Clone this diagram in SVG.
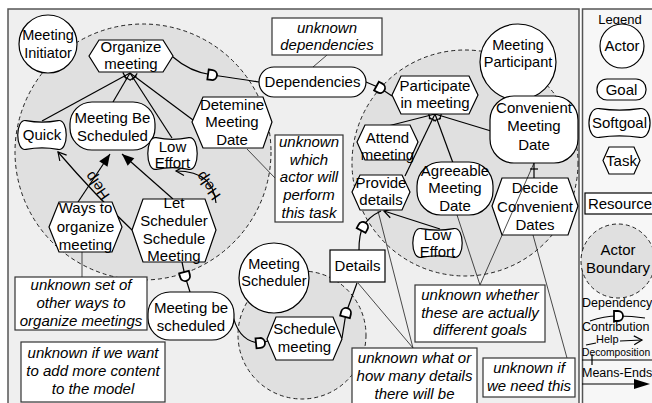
<svg xmlns="http://www.w3.org/2000/svg" width="652" height="403" viewBox="0 0 652 403">
<style>
text{font-family:"Liberation Sans",Arial,sans-serif;font-size:15px;fill:#000;text-anchor:middle}
.act text{font-size:14.5px}
.nt text{font-style:italic}
.sh{fill:#fff;stroke:#000;stroke-width:1.2}
.nr{fill:#fff;stroke:#333;stroke-width:1.2}
.bnd{fill:#e0e0e0;stroke:#222;stroke-width:1;stroke-dasharray:4 3}
.ln{fill:none;stroke:#000;stroke-width:1.2}
.an{fill:none;stroke:#000;stroke-width:0.7}
.dep{marker-mid:url(#dmark)}
.dec{marker-start:url(#tick)}
.me{marker-end:url(#mend)}
.con{marker-end:url(#open)}
.lg text{text-anchor:start}
</style>
<defs>
<marker id="dmark" viewBox="-7 -7 14 14" markerWidth="14" markerHeight="14" refX="0" refY="0" orient="auto" markerUnits="userSpaceOnUse">
<path d="M-4,-5 L0,-5 A5,5 0 0 1 0,5 L-4,5 Z" fill="#fff" stroke="#000" stroke-width="1.8"/>
</marker>
<marker id="tick" viewBox="-2 -6 12 12" markerWidth="12" markerHeight="12" refX="0" refY="0" orient="auto" markerUnits="userSpaceOnUse">
<path d="M6,-4 L6,4" stroke="#000" stroke-width="1.2"/>
</marker>
<marker id="mend" viewBox="-13 -7 15 14" markerWidth="15" markerHeight="14" refX="0" refY="0" orient="auto" markerUnits="userSpaceOnUse">
<path d="M0,0 L-12,-5 L-12,5 Z" fill="#000"/>
</marker>
<marker id="open" viewBox="-11 -7 13 14" markerWidth="13" markerHeight="14" refX="0" refY="0" orient="auto" markerUnits="userSpaceOnUse">
<path d="M-8,-4.5 L0,0 L-8,4.5" fill="none" stroke="#000" stroke-width="1.2"/>
</marker>
</defs>

<rect x="0" y="0" width="652" height="403" fill="#fff"/>
<!-- panels -->
<rect x="8" y="9" width="571" height="410" fill="#efefef" stroke="#555" stroke-width="1.5"/>
<rect x="582.5" y="9" width="80" height="410" fill="#f7f7f7" stroke="#555" stroke-width="1.5"/>

<!-- actor boundaries -->
<g id="boundaries">
<circle class="bnd" cx="143" cy="152" r="128"/>
<circle class="bnd" cx="465" cy="163" r="113"/>
<circle class="bnd" cx="302" cy="335" r="64"/>
</g>

<!-- links -->
<g id="connectors">
<!-- dependencies -->
<path class="ln dep" d="M173,57 Q190,72 212,75 Q240,79 259,82"/>
<path class="ln dep" d="M366,82 L380,88 L392,96"/>
<path class="ln dep" d="M182,262 L185,276 L190,292"/>
<path class="ln dep" d="M232,312 Q238,342 260,343 L268,341"/>
<path class="ln dep" d="M342,338 L346,313 L357,283"/>
<path class="ln dep" d="M359,250 Q359,234 363,227 Q368,217 381,211"/>
<!-- decompositions -->
<path class="ln dec" d="M130,73 L42,121"/>
<path class="ln dec" d="M130,73 L113,102"/>
<path class="ln dec" d="M130,73 L172,138"/>
<path class="ln dec" d="M130,73 L193,120"/>
<path class="ln dec" d="M435,114 L388,126"/>
<path class="ln dec" d="M435,114 L405,176"/>
<path class="ln dec" d="M435,114 L453,163"/>
<path class="ln dec" d="M435,114 L491,131"/>
<path class="ln dec" d="M534,163 L534,178"/>
<!-- means-ends -->
<path class="ln me" d="M78,202 L110,154"/>
<path class="ln me" d="M173,199 L122,154"/>
<!-- contributions -->
<path class="ln con" d="M132,230 Q95,195 58,152"/>
<text transform="translate(97,186) rotate(235)" dy="0.35em">Help</text>
<path class="ln con" d="M216,203 C214,184 204,171 176,171"/>
<text transform="translate(208,186) rotate(235)" dy="0.35em">Help</text>
<path class="ln con" d="M440,229 L384,211"/>
</g>

<!-- Meeting Initiator -->
<g id="meeting-initiator" class="act">
<circle class="sh" cx="48" cy="44" r="29"/>
<text x="48" y="40">Meeting</text>
<text x="48" y="58">Initiator</text>
</g>
<g id="organize-meeting">
<polygon class="sh" points="89,56 99,40 163,40 173,56 163,72 99,72"/>
<text x="131" y="52">Organize</text>
<text x="131" y="69">meeting</text>
</g>
<g id="meeting-be-scheduled-goal">
<rect class="sh" x="70" y="102" width="85" height="48" rx="22"/>
<text x="112.5" y="123">Meeting Be</text>
<text x="112.5" y="141">Scheduled</text>
</g>
<g id="quick">
<path class="sh" d="M26,120.6 Q42,123.6 58,120.6 C69,118.5 69,151.5 58,149.4 Q42,146.4 26,149.4 C15,151.5 15,118.5 26,120.6 Z"/>
<text x="42" y="140">Quick</text>
</g>
<g id="low-effort-initiator">
<path class="sh" d="M156.2,137.7 Q172.5,141 188.8,137.7 C200,135.4 200,171.7 188.8,169.3 Q172.5,166 156.2,169.3 C145,171.7 145,135.4 156.2,137.7 Z"/>
<text x="172.5" y="152">Low</text>
<text x="172.5" y="168">Effort</text>
</g>
<g id="determine-meeting-date">
<polygon class="sh" points="192,122 203,97 263,97 272,122 263,148 203,148"/>
<text x="232" y="110">Detemine</text>
<text x="232" y="127">Meeting</text>
<text x="232" y="145">Date</text>
</g>
<g id="ways-to-organize">
<polygon class="sh" points="49,227 59,202 112,202 122,227 112,252 59,252"/>
<text x="85.5" y="213">Ways to</text>
<text x="85.5" y="232">organize</text>
<text x="85.5" y="250">meeting</text>
</g>
<g id="let-scheduler">
<polygon class="sh" points="132,230 143,199 205,199 216,230 205,262 143,262"/>
<text x="174" y="208">Let</text>
<text x="174" y="226">Scheduler</text>
<text x="174" y="244">Schedule</text>
<text x="174" y="261">Meeting</text>
</g>

<!-- shared -->
<g id="dependencies">
<rect class="sh" x="259" y="67" width="107" height="30" rx="15"/>
<text x="312.5" y="87">Dependencies</text>
</g>
<g id="meeting-be-scheduled">
<rect class="sh" x="148" y="292" width="86" height="48" rx="22"/>
<text x="191" y="313">Meeting be</text>
<text x="191" y="331">scheduled</text>
</g>
<g id="details">
<rect class="sh" x="330" y="250" width="55" height="32"/>
<text x="357.5" y="271">Details</text>
</g>

<!-- Meeting Participant -->
<g id="meeting-participant" class="act">
<circle class="sh" cx="518" cy="62" r="38"/>
<text x="518" y="50">Meeting</text>
<text x="518" y="67">Participant</text>
</g>
<g id="participate-in-meeting">
<polygon class="sh" points="392,95 401,76 469,76 478,95 469,114 401,114"/>
<text x="435" y="91">Participate</text>
<text x="435" y="108">in meeting</text>
</g>
<g id="attend-meeting">
<polygon class="sh" points="357,142 365,125 410,125 418,142 410,160 365,160"/>
<text x="387.5" y="143">Attend</text>
<text x="387.5" y="160">meeting</text>
</g>
<g id="provide-details">
<polygon class="sh" points="352,192 360,175 402,175 410,192 402,210 360,210"/>
<text x="381" y="188">Provide</text>
<text x="381" y="205">details</text>
</g>
<g id="agreeable-meeting-date">
<rect class="sh" x="417" y="162" width="76" height="53" rx="24"/>
<text x="455" y="176">Agreeable</text>
<text x="455" y="193">Meeting</text>
<text x="455" y="211">Date</text>
</g>
<g id="convenient-meeting-date">
<rect class="sh" x="490" y="96" width="88" height="67" rx="24"/>
<text x="534" y="113">Convenient</text>
<text x="534" y="131">Meeting</text>
<text x="534" y="150">Date</text>
</g>
<g id="decide-convenient-dates">
<polygon class="sh" points="492,206 502,178 568,178 578,206 568,235 502,235"/>
<text x="535" y="193">Decide</text>
<text x="535" y="212">Convenient</text>
<text x="535" y="230">Dates</text>
</g>
<g id="low-effort-participant">
<path class="sh" d="M421.2,228.6 Q437.5,231.6 453.8,228.6 C465,226.5 465,259.5 453.8,257.4 Q437.5,254.4 421.2,257.4 C410,259.5 410,226.5 421.2,228.6 Z"/>
<text x="437.5" y="240">Low</text>
<text x="437.5" y="257">Effort</text>
</g>

<!-- Meeting Scheduler -->
<g id="meeting-scheduler" class="act">
<circle class="sh" cx="274" cy="278" r="35"/>
<text x="274" y="269">Meeting</text>
<text x="274" y="286">Scheduler</text>
</g>
<g id="schedule-meeting">
<polygon class="sh" points="267,339 276,317 333,317 342,339 333,360 276,360"/>
<text x="304.5" y="334">Schedule</text>
<text x="304.5" y="352">meeting</text>
</g>

<!-- annotations -->
<g id="note-lines">
<path class="an" d="M327,55 L313,67"/>
<path class="an" d="M247,149 L275,178"/>
<path class="an" d="M82,252 L82,277"/>
<path class="an" d="M378,211 L413,348"/>
<path class="an" d="M358,283 L413,348"/>
<path class="an" d="M457,215 L480,285"/>
<path class="an" d="M534,163 L480,285"/>
<path class="an" d="M533,235 L567,358"/>
</g>
<g id="note-dependencies" class="nt">
<rect class="nr" x="272" y="18" width="110" height="37"/>
<text x="327" y="33">unknown</text>
<text x="327" y="50">dependencies</text>
</g>
<g id="note-which-actor" class="nt">
<rect class="nr" x="275" y="135" width="68" height="87"/>
<text x="309" y="147">unknown</text>
<text x="309" y="165">which</text>
<text x="309" y="182">actor will</text>
<text x="309" y="200">perform</text>
<text x="309" y="218">this task</text>
</g>
<g id="note-other-ways" class="nt">
<rect class="nr" x="15" y="277" width="132" height="53"/>
<text x="81" y="290">unknown set of</text>
<text x="81" y="308">other ways to</text>
<text x="81" y="326">organize meetings</text>
</g>
<g id="note-more-content" class="nt">
<rect class="nr" x="21" y="342" width="144" height="60"/>
<text x="93" y="358">unknown if we want</text>
<text x="93" y="376">to add more content</text>
<text x="93" y="394">to the model</text>
</g>
<g id="note-different-goals" class="nt">
<rect class="nr" x="415" y="285" width="130" height="57"/>
<text x="480" y="300">unknown whether</text>
<text x="480" y="318">these are actually</text>
<text x="480" y="335">different goals</text>
</g>
<g id="note-how-many-details" class="nt">
<rect class="nr" x="352" y="348" width="125" height="62"/>
<text x="414.5" y="363">unknown what or</text>
<text x="414.5" y="381">how many details</text>
<text x="414.5" y="399">there will be</text>
</g>
<g id="note-need-this" class="nt">
<rect class="nr" x="483" y="358" width="92" height="39"/>
<text x="529" y="373">unknown if</text>
<text x="529" y="391">we need this</text>
</g>

<!-- legend -->
<g id="legend">
<text x="620" y="24" style="font-size:13px">Legend</text>
<circle class="sh" cx="622" cy="46" r="22"/>
<text x="622" y="51">Actor</text>
<rect class="sh" x="597" y="79" width="49" height="21" rx="10"/>
<text x="621.5" y="95">Goal</text>
<path class="sh" d="M599.3,108.6 Q619.5,111.6 639.7,108.6 C653.5,106.5 653.5,139.5 639.7,137.4 Q619.5,134.4 599.3,137.4 C585.5,139.5 585.5,106.5 599.3,108.6 Z"/>
<text x="619.5" y="128">Softgoal</text>
<polygon class="sh" points="603,160.5 609,147 634,147 640,160.5 634,174 609,174"/>
<text x="621.5" y="166">Task</text>
<rect class="sh" x="585" y="193" width="71" height="21"/>
<text x="620" y="209">Resource</text>
<circle class="bnd" cx="618" cy="261" r="37"/>
<text x="618" y="255">Actor</text>
<text x="618" y="273">Boundary</text>
<g class="lg">
<text x="582" y="307" style="font-size:12.5px">Dependency</text>
<path class="ln dep" d="M590,321 Q604,316 618,316 Q632,316 645,318"/>
<text x="582" y="331" style="font-size:12.5px">Contribution</text>
<path class="ln" d="M586,345 L596,343"/>
<path class="ln con" d="M620,341 L642,340"/>
<text x="596" y="343" style="font-size:11px">Help</text>
<text x="582" y="356" style="font-size:10.3px">Decomposition</text>
<path class="ln" d="M582,360 L652,360 M592,354 L592,365"/>
<text x="582" y="377" style="font-size:12.5px">Means-Ends</text>
<path class="ln" d="M582,384 L636,384"/>
<polygon points="634,379 650,384 634,389" fill="#000"/>
</g>
</g>
</svg>
